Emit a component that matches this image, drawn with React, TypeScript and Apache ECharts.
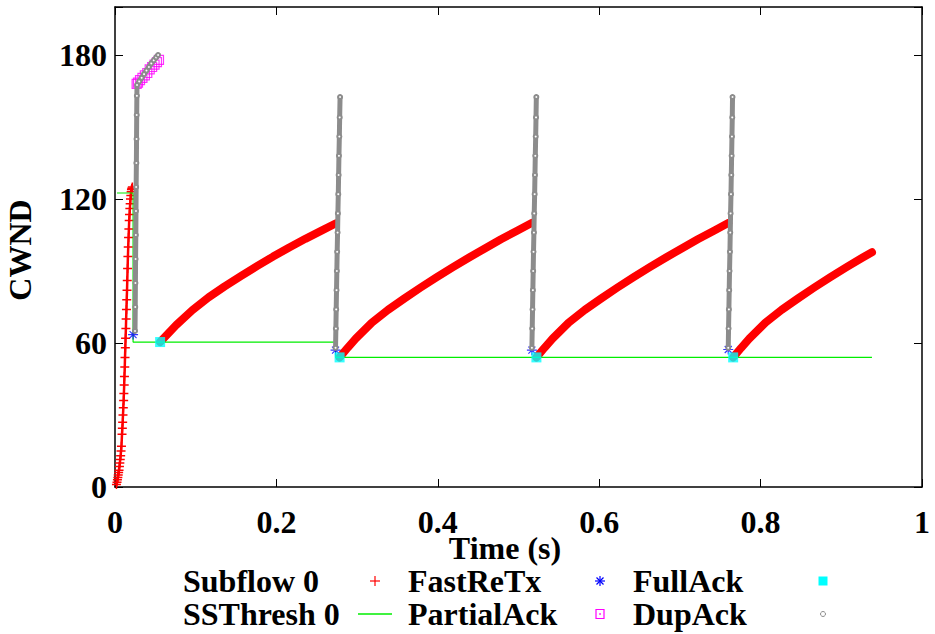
import React, { useEffect, useRef } from "react";
import * as echarts from "echarts";

const xTicks = [0, 0.2, 0.4, 0.6, 0.8, 1];
const yTicks = [0, 60, 120, 180];

// Subflow 0 cwnd: slow start (individual + marks)
const slowStart: [number, number][] = [
  [0.0018, 1], [0.0025, 2], [0.003, 3], [0.0035, 4], [0.004, 5], [0.0045, 6],
  [0.005, 7], [0.0055, 8.5], [0.006, 10], [0.0065, 11.5], [0.007, 13],
  [0.0075, 15], [0.008, 17], [0.0087, 22], [0.0091, 24.5], [0.0095, 27],
  [0.0099, 30], [0.0103, 33], [0.0107, 36], [0.011, 39], [0.0114, 42.5],
  [0.0117, 46], [0.0121, 50], [0.0124, 54], [0.0128, 58], [0.0131, 62],
  [0.0135, 66], [0.0138, 70], [0.0142, 74], [0.0145, 78], [0.0149, 82],
  [0.0152, 86], [0.0156, 91], [0.016, 96], [0.0164, 100], [0.0168, 104],
  [0.0172, 107.5], [0.0176, 111], [0.018, 113.5], [0.0184, 116], [0.0188, 118],
  [0.0192, 120], [0.0196, 121.5], [0.02, 123], [0.0204, 124], [0.0208, 124.5],
  [0.0215, 125],
];

// Subflow 0 cwnd: congestion avoidance segments
const cwndSeg1: [number, number][] = [
  [0.0559, 60.4], [0.0659, 64], [0.0759, 67.5], [0.0959, 73.7], [0.1159, 79],
  [0.1359, 83.6], [0.1559, 87.9], [0.1759, 92], [0.1959, 96], [0.2159, 99.8],
  [0.2359, 103.4], [0.2559, 106.8], [0.2733, 109.8],
];
const cwndSeg2: [number, number][] = [
  [0.2783, 54], [0.2883, 58], [0.2983, 61.8], [0.3183, 68.5], [0.3383, 73.8],
  [0.3583, 78.5], [0.3783, 83], [0.3983, 87.3], [0.4183, 91.5], [0.4383, 95.5],
  [0.4583, 99.4], [0.4783, 103.2], [0.4983, 106.8], [0.5163, 110],
];
const cwndSeg3: [number, number][] = [
  [0.5222, 54], [0.5322, 58], [0.5422, 61.8], [0.5622, 68.5], [0.5822, 73.8],
  [0.6022, 78.5], [0.6222, 83], [0.6422, 87.3], [0.6622, 91.5], [0.6822, 95.5],
  [0.7022, 99.4], [0.7222, 103.2], [0.7422, 106.8], [0.7599, 110],
];
const cwndSeg4: [number, number][] = [
  [0.766, 54], [0.776, 58], [0.786, 61.8], [0.806, 68.5], [0.826, 73.8],
  [0.846, 78.5], [0.866, 83], [0.886, 87.3], [0.906, 91.5], [0.926, 95.5],
  [0.938, 97.8],
];

const ssthresh: [number, number][] = [
  [0.0025, 122.5], [0.0224, 122.5], [0.0224, 60.4], [0.2733, 60.4],
  [0.2733, 54], [0.938, 54],
];

const fastReTx: [number, number][] = [
  [0.0224, 63.5], [0.2733, 57], [0.5166, 57], [0.7599, 57.3],
];

const partialAck: [number, number][] = [
  [0.0268, 168], [0.0285, 168.5], [0.031, 169.5], [0.034, 170.5], [0.037, 171.5],
  [0.04, 172.5], [0.043, 174], [0.046, 175], [0.049, 176], [0.052, 177],
  [0.0545, 178],
];

const fullAck: [number, number][] = [
  [0.0559, 60.4], [0.2783, 54], [0.5222, 54], [0.766, 54],
];

const dupAck1: [number, number][] = [
  [0.0248, 65], [0.0251, 75], [0.0253, 85], [0.0255, 95], [0.0258, 105],
  [0.026, 115], [0.0262, 125], [0.0265, 135], [0.0267, 145], [0.0269, 155],
  [0.0271, 163], [0.0273, 167.5], [0.03, 169], [0.033, 170.5], [0.036, 172],
  [0.039, 173.5], [0.042, 175], [0.045, 176.5], [0.048, 177.8], [0.051, 179],
  [0.0534, 180],
];
const dupAck2: [number, number][] = [
  [0.2733, 58], [0.2737, 66], [0.2741, 74], [0.2745, 82], [0.2749, 90],
  [0.2753, 98], [0.2758, 106], [0.2762, 114], [0.2767, 122], [0.2771, 130],
  [0.2775, 138], [0.278, 146], [0.2784, 154], [0.2789, 162.5],
];
const dupAck3: [number, number][] = [
  [0.5166, 58], [0.517, 66], [0.5174, 74], [0.5178, 82], [0.5182, 90],
  [0.5186, 98], [0.5191, 106], [0.5195, 114], [0.52, 122], [0.5204, 130],
  [0.5208, 138], [0.5213, 146], [0.5217, 154], [0.5221, 162.5],
];
const dupAck4: [number, number][] = [
  [0.7599, 58], [0.7603, 66], [0.7607, 74], [0.7611, 82], [0.7615, 90],
  [0.762, 98], [0.7624, 106], [0.7628, 114], [0.7633, 122], [0.7637, 130],
  [0.7641, 138], [0.7645, 146], [0.7649, 154], [0.7652, 162.5],
];

const legendNames = ["Subflow 0", "SSThresh 0", "FastReTx", "PartialAck", "FullAck", "DupAck"];

const FONT = "'Liberation Serif', 'Times New Roman', serif";
const PLUS = "path://M0,5L10,5M5,0L5,10";
const STAR = "path://M0,5L10,5M5,0L5,10M1.5,1.5L8.5,8.5M8.5,1.5L1.5,8.5";

export default function App() {
  const ref = useRef<HTMLDivElement>(null);
  useEffect(() => {
    if (!ref.current) return;
    const chart = echarts.init(ref.current, undefined, { renderer: "svg" });

    const axisLine = { show: true, onZero: false, lineStyle: { color: "#000", width: 1.5 } };
    const axisTick = { show: true, inside: true, length: 8, lineStyle: { color: "#000", width: 1 } };
    const labelStyle = { fontFamily: FONT, fontWeight: "bold" as const, fontSize: 32, lineHeight: 28, color: "#000" };

    const cwndLine = (data: [number, number][]) => ({
      name: legendNames[0],
      type: "line",
      data,
      showSymbol: false,
      smooth: false,
      lineStyle: { color: "#ff0000", width: 8, cap: "round", join: "round" },
      itemStyle: { color: "#ff0000" },
      z: 2,
    });
    const dupLine = (data: [number, number][]) => ({
      name: legendNames[5],
      type: "line",
      data,
      symbol: "emptyCircle",
      symbolSize: 4,
      showAllSymbol: true,
      lineStyle: { color: "#8c8c8c", width: 5, cap: "round" },
      itemStyle: { color: "#8c8c8c", borderColor: "#8c8c8c", borderWidth: 1 },
      z: 7,
    });

    const textStyle = (text: string, align: string) => ({
      text, fontFamily: FONT, fontWeight: "bold", fontSize: 32, lineHeight: 28, fill: "#000", align, verticalAlign: "middle",
    });
    const legendText = (text: string, x: number, y: number) => ({
      type: "text", x, y, style: textStyle(text, "left"),
    });
    const r1 = 581;
    const r2 = 614;

    chart.setOption({
      animation: false,
      backgroundColor: "#fff",
      grid: { left: 115, right: 13, top: 7, bottom: 147, outerBoundsMode: "none" },
      xAxis: [
        {
          type: "value", min: 0, max: 1, interval: 0.2, position: "bottom",
          axisLine, axisTick, splitLine: { show: false },
          axisLabel: { ...labelStyle, margin: 21, formatter: (v: number) => (xTicks.includes(v) ? String(v) : "") },
        },
        {
          type: "value", min: 0, max: 1, interval: 0.2, position: "top",
          axisLine, axisTick, splitLine: { show: false }, axisLabel: { show: false },
        },
      ],
      yAxis: [
        {
          type: "value", min: 0, max: 200, interval: 60, position: "left",
          axisLine, axisTick, splitLine: { show: false },
          axisLabel: { ...labelStyle, margin: 8, formatter: (v: number) => (yTicks.includes(v) ? String(v) : "") },
        },
        {
          type: "value", min: 0, max: 200, interval: 60, position: "right",
          axisLine, axisTick, splitLine: { show: false }, axisLabel: { show: false },
        },
      ],
      series: [
        {
          name: legendNames[0], type: "line", data: slowStart,
          symbol: PLUS, symbolSize: 9, showAllSymbol: true,
          lineStyle: { color: "#ff0000", width: 2.5 },
          itemStyle: { color: "transparent", borderColor: "#ff0000", borderWidth: 1.5 },
          z: 2,
        },
        cwndLine(cwndSeg1),
        cwndLine(cwndSeg2),
        cwndLine(cwndSeg3),
        cwndLine(cwndSeg4),
        {
          name: legendNames[1], type: "line", data: ssthresh, showSymbol: false,
          lineStyle: { color: "#00ee00", width: 1.2 }, itemStyle: { color: "#00ee00" }, z: 3,
        },
        {
          name: legendNames[2], type: "scatter", data: fastReTx, symbol: STAR, symbolSize: 10,
          itemStyle: { color: "transparent", borderColor: "#0000ff", borderWidth: 1.2 }, z: 4,
        },
        {
          name: legendNames[3], type: "scatter", data: partialAck, symbol: "rect", symbolSize: 9,
          itemStyle: { color: "transparent", borderColor: "#ff00ff", borderWidth: 1.2 }, z: 5,
        },
        {
          name: legendNames[4], type: "scatter", data: fullAck, symbol: "rect", symbolSize: 10,
          itemStyle: { color: "#00ffff" }, z: 6,
        },
        dupLine(dupAck1),
        dupLine(dupAck2),
        dupLine(dupAck3),
        dupLine(dupAck4),
      ],
      graphic: [
        { type: "text", x: 20, y: 250, rotation: Math.PI / 2, style: textStyle("CWND", "center") },
        { type: "text", x: 505, y: 548, style: textStyle("Time (s)", "center") },
        legendText(legendNames[0], 183, r1),
        legendText(legendNames[2], 408, r1),
        legendText(legendNames[4], 633, r1),
        legendText(legendNames[1], 183, r2),
        legendText(legendNames[3], 408, r2),
        legendText(legendNames[5], 633, r2),
        // samples row 1
        { type: "line", shape: { x1: 370, y1: r1, x2: 380, y2: r1 }, style: { stroke: "#ff0000", lineWidth: 1.2 } },
        { type: "line", shape: { x1: 375, y1: r1 - 5, x2: 375, y2: r1 + 5 }, style: { stroke: "#ff0000", lineWidth: 1.2 } },
        { type: "line", shape: { x1: 595, y1: r1, x2: 605, y2: r1 }, style: { stroke: "#0000ff", lineWidth: 1.2 } },
        { type: "line", shape: { x1: 600, y1: r1 - 5, x2: 600, y2: r1 + 5 }, style: { stroke: "#0000ff", lineWidth: 1.2 } },
        { type: "line", shape: { x1: 596.5, y1: r1 - 3.5, x2: 603.5, y2: r1 + 3.5 }, style: { stroke: "#0000ff", lineWidth: 1.2 } },
        { type: "line", shape: { x1: 603.5, y1: r1 - 3.5, x2: 596.5, y2: r1 + 3.5 }, style: { stroke: "#0000ff", lineWidth: 1.2 } },
        { type: "rect", shape: { x: 818.5, y: r1 - 4.5, width: 9, height: 9 }, style: { fill: "#00ffff" } },
        // samples row 2
        { type: "line", shape: { x1: 358, y1: r2, x2: 392, y2: r2 }, style: { stroke: "#00ee00", lineWidth: 1.5 } },
        { type: "rect", shape: { x: 596, y: r2 - 4.5, width: 8, height: 9 }, style: { fill: "none", stroke: "#ff00ff", lineWidth: 1.2 } },
        { type: "circle", shape: { cx: 600, cy: r2, r: 0.8 }, style: { fill: "#ff00ff" } },
        { type: "circle", shape: { cx: 823, cy: r2, r: 2.5 }, style: { fill: "none", stroke: "#8c8c8c", lineWidth: 1 } },
      ],
    });
    return () => chart.dispose();
  }, []);
  return (
    <div
      ref={ref}
      style={{ position: "fixed", left: 0, top: 0, width: 935, height: 634, background: "#fff" }}
    />
  );
}
